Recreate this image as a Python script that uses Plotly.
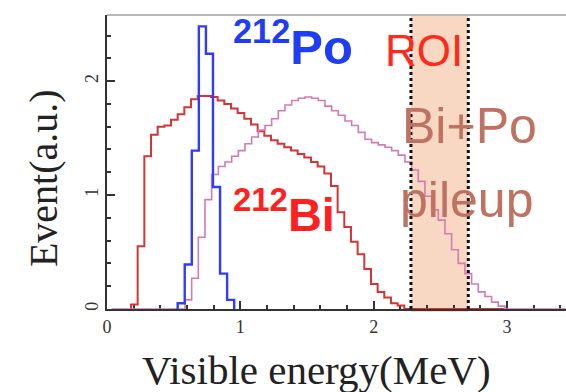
import numpy as np
import plotly.graph_objects as go

# ---- data ----
energy_ticks = [0, 1, 2, 3]
event_ticks = [0, 1, 2]

# 212Bi histogram (red): first bin edge and bin width in MeV, bin contents
bi_start, bi_width = 0.18, 0.05
bi_vals = [0.04, 0.55, 1.34, 1.53, 1.60, 1.61, 1.66, 1.71, 1.77, 1.84,
           1.87, 1.87, 1.86, 1.83, 1.80, 1.76, 1.72, 1.67, 1.62, 1.56,
           1.52, 1.48, 1.45, 1.42, 1.39, 1.36, 1.33, 1.29, 1.25, 1.19,
           1.08, 0.85, 0.72, 0.59, 0.48, 0.35, 0.22, 0.15, 0.10, 0.05,
           0.03, 0, 0, 0, 0, 0, 0, 0, 0, 0, 0, 0, 0, 0, 0, 0]

# Bi+Po pileup histogram (pink)
pile_start, pile_width = 0.035, 0.05
pile_vals = [0, 0, 0, 0, 0, 0, 0, 0, 0, 0, 0,
             0.08, 0.27, 0.63, 0.96, 1.18, 1.25, 1.29, 1.34, 1.39, 1.45,
             1.51, 1.57, 1.61, 1.67, 1.74, 1.79, 1.83, 1.85, 1.86, 1.85,
             1.83, 1.78, 1.74, 1.70, 1.65, 1.61, 1.55, 1.49, 1.46, 1.44,
             1.42, 1.39, 1.35, 1.29, 1.22, 1.12, 0.99, 0.87, 0.78, 0.66,
             0.52, 0.40, 0.31, 0.22, 0.15, 0.11, 0.06, 0.025,
             0, 0, 0, 0, 0, 0, 0, 0, 0, 0]

# 212Po histogram (blue)
po_start, po_width = 0.53, 0.053
po_vals = [0.05, 0.39, 1.39, 2.48, 2.24, 1.07, 0.31, 0.08]

roi_lo, roi_hi = 2.28, 2.71
x_range = [0, 3.443]
y_range = [0, 2.58]


def steps(start, width, vals):
    edges = start + width * np.arange(len(vals) + 1)
    x = np.concatenate([[edges[0]], edges])
    y = np.concatenate([[0.0], np.asarray(vals, float), [0.0]])
    return x, y


fig = go.Figure()

for (s, w, v, col, lw) in [
    (bi_start, bi_width, bi_vals, "#d63434", 2.0),
    (pile_start, pile_width, pile_vals, "#d47ab4", 1.6),
    (po_start, po_width, po_vals, "#2f3cff", 2.4),
]:
    xx, yy = steps(s, w, v)
    fig.add_trace(go.Scatter(x=xx, y=yy, mode="lines", line_shape="hv",
                             line=dict(color=col, width=lw),
                             hoverinfo="skip", showlegend=False))

# ROI band and dotted borders
fig.add_shape(type="rect", xref="x", yref="paper", x0=roi_lo, x1=roi_hi,
              y0=-0.01, y1=1, fillcolor="#f8d8c2", line_width=0, layer="below")
for xv in (roi_lo, roi_hi):
    fig.add_shape(type="line", xref="x", yref="paper", x0=xv, x1=xv,
                  y0=0, y1=1, line=dict(color="#111111", width=3, dash="dot"))
# top frame line
fig.add_shape(type="line", xref="paper", yref="paper", x0=0, x1=1, y0=1, y1=1,
              line=dict(color="#b8b8b8", width=2))

sans = "Liberation Sans"
serif = "Liberation Serif"
fig.add_annotation(x=0.93, y=2.33, xref="x", yref="y", xanchor="left",
                   yanchor="middle", showarrow=False,
                   text="<b><sup>212</sup>Po</b>",
                   font=dict(family=sans, size=49, color="#1f3df5"))
fig.add_annotation(x=2.38, y=2.27, xref="x", yref="y", xanchor="center",
                   yanchor="middle", showarrow=False, text="ROI",
                   font=dict(family=sans, size=44, color="#ff2a1a"))
fig.add_annotation(x=2.72, y=1.61, xref="x", yref="y", xanchor="center",
                   yanchor="middle", showarrow=False, text="Bi+Po",
                   font=dict(family=sans, size=50, color="#c07262"))
fig.add_annotation(x=2.70, y=0.96, xref="x", yref="y", xanchor="center",
                   yanchor="middle", showarrow=False, text="pileup",
                   font=dict(family=sans, size=50, color="#c07262"))
fig.add_annotation(x=0.93, y=0.86, xref="x", yref="y", xanchor="left",
                   yanchor="middle", showarrow=False,
                   text="<b><sup>212</sup>Bi</b>",
                   font=dict(family=sans, size=47, color="#ff2020"))

# axis titles
fig.add_annotation(x=0.456, y=-0.207, xref="paper", yref="paper",
                   xanchor="center", yanchor="middle", showarrow=False,
                   text="Visible energy(MeV)",
                   font=dict(family=serif, size=41, color="#222222"))
fig.add_annotation(x=-0.138, y=0.444, xref="paper", yref="paper",
                   xanchor="center", yanchor="middle", showarrow=False,
                   textangle=-90, text="Event(a.u.)",
                   font=dict(family=serif, size=40, color="#222222"))

fig.update_layout(
    width=566, height=392,
    margin=dict(l=107, r=0, t=15, b=83),
    paper_bgcolor="white", plot_bgcolor="white",
    xaxis=dict(range=x_range, showgrid=False, zeroline=False,
               showline=True, linecolor="#333333", linewidth=2,
               tickmode="array", tickvals=energy_ticks,
               ticktext=[str(t) for t in energy_ticks],
               ticks="inside", ticklen=8, tickwidth=2, tickcolor="#333333",
               minor=dict(dtick=0.2, ticks="inside", ticklen=4,
                          tickwidth=2, tickcolor="#333333"),
               tickfont=dict(family=serif, size=18, color="#333333"),
               layer="below traces"),
    yaxis=dict(range=y_range, showgrid=False, zeroline=False,
               showline=True, linecolor="#333333", linewidth=2,
               tickmode="array", tickvals=event_ticks,
               ticktext=[str(t) for t in event_ticks],
               ticks="inside", ticklen=8, tickwidth=2, tickcolor="#333333",
               minor=dict(dtick=0.2, ticks="inside", ticklen=4,
                          tickwidth=2, tickcolor="#333333"),
               tickangle=-90,
               tickfont=dict(family=serif, size=18, color="#333333"),
               layer="below traces"),
)

fig.write_html("out.html")
